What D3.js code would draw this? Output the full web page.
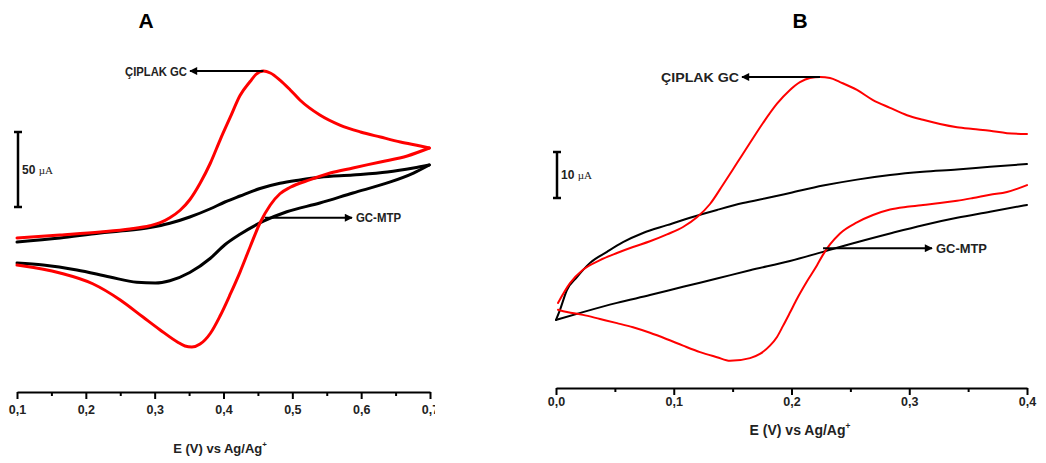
<!DOCTYPE html>
<html><head><meta charset="utf-8">
<script src="https://cdn.jsdelivr.net/npm/d3@7"></script>
<style>
html,body{margin:0;padding:0;background:#fff;}
svg{display:block;}
text{font-family:"Liberation Sans",Arial,sans-serif;}
</style></head>
<body><svg id="c" width="1046" height="463"></svg>
<script>
// ---------- Panel A data (E in V, I in µA) ----------
const redA_E_fwd = [0.100,0.1625,0.221,0.264,0.293,0.308,0.322,0.337,0.351,0.366,0.381,0.395,0.410,0.424,0.439,0.447,0.458,0.468,0.482,0.497,0.511,0.540,0.569,0.599,0.628,0.657,0.686,0.699];
const redA_I_fwd = [8,10,12,14,16.2,18.2,21.5,26.5,33.5,44.5,58,73.3,88.7,103,112.5,117,119.3,118,113.3,106.7,100,90,83.3,78.7,75.3,72,69.3,68];
const redA_E_rev = [0.699,0.667,0.628,0.588,0.555,0.526,0.497,0.482,0.468,0.453,0.439,0.424,0.410,0.395,0.381,0.366,0.354,0.344,0.333,0.308,0.283,0.250,0.210,0.1625,0.100];
const redA_I_rev = [68,62.7,58.7,54.7,51.3,46.9,41.8,37.5,30,18,2.5,-14.7,-29.3,-44,-55.5,-62.7,-64.7,-64,-61.3,-53.3,-44.7,-33.3,-22.5,-15.3,-10];
const blkA_E_fwd = [0.100,0.1625,0.221,0.250,0.293,0.322,0.351,0.381,0.402,0.424,0.453,0.482,0.511,0.540,0.588,0.638,0.676,0.699];
const blkA_I_fwd = [5.3,8,11.3,12.6,15,17.8,22,27.5,32,36,41,44.5,46.7,48.5,50,52,54.7,56.7];
const blkA_E_rev = [0.699,0.676,0.638,0.588,0.540,0.492,0.458,0.424,0.402,0.381,0.351,0.322,0.301,0.274,0.235,0.187,0.138,0.100];
const blkA_I_rev = [56.7,51.3,44.7,38,31.3,25.5,19.2,10.5,3.5,-5.5,-15,-20.5,-22,-21.5,-18,-13.3,-10,-8.7];
const ticksA = [0.1,0.2,0.3,0.4,0.5,0.6,0.7];
const tickLabelsA = ["0,1","0,2","0,3","0,4","0,5","0,6","0,7"];
const minorTicksA = [0.15,0.25,0.35,0.45,0.55,0.65];

// ---------- Panel B data ----------
const redB_E_fwd = [0.0017,0.0119,0.0229,0.0374,0.0518,0.0654,0.0798,0.0943,0.1079,0.1197,0.1308,0.1418,0.1537,0.1648,0.1758,0.1877,0.1987,0.2072,0.2157,0.2242,0.2327,0.2412,0.2556,0.2692,0.2837,0.2981,0.3117,0.3261,0.3406,0.3541,0.3686,0.3830,0.4];
const redB_I_fwd = [-11.5,-7.2,-4.3,-2.2,-0.65,0.65,1.9,3.4,5.0,7.1,10.0,14.2,18.9,23.3,27.6,31.8,34.8,36.5,37.4,37.6,37.4,36.5,34.8,32.6,30.9,29.3,28.3,27.4,26.7,26.3,25.9,25.4,25.2];
const redB_E_rev = [0.4,0.383,0.3686,0.3541,0.3406,0.3261,0.3117,0.2981,0.2837,0.2692,0.2556,0.2412,0.2327,0.2268,0.2217,0.2132,0.2047,0.1987,0.1928,0.1877,0.1817,0.1732,0.1648,0.1478,0.1367,0.1223,0.1079,0.0943,0.0798,0.0654,0.0518,0.0374,0.0229,0.0093,0.0017];
const redB_I_rev = [14.1,12.6,12.0,11.3,10.7,10.2,9.8,9.4,8.8,7.6,6.0,3.6,1.2,-1.0,-3.3,-6.8,-10.6,-13.6,-16.5,-18.9,-20.8,-22.6,-23.5,-24.1,-23.3,-22.2,-20.8,-19.4,-18.0,-16.8,-15.9,-15.0,-14.1,-13.5,-13.0];
const blkB_E_fwd = [0.0,0.0034,0.0093,0.0178,0.0289,0.0433,0.0569,0.0739,0.0943,0.1138,0.1367,0.1588,0.1792,0.1987,0.2268,0.2556,0.2837,0.3117,0.3406,0.3686,0.4];
const blkB_I_fwd = [-15.2,-13.0,-8.7,-5.9,-2.8,-0.4,1.7,3.7,5.4,7.0,8.7,10.2,11.3,12.4,14.0,15.3,16.3,17.0,17.5,18.1,18.7];
const blkB_E_rev = [0.0,0.0229,0.0518,0.0798,0.1079,0.1367,0.1648,0.1987,0.2268,0.2556,0.2837,0.3117,0.3406,0.3686,0.4];
const blkB_I_rev = [-15.2,-13.5,-11.5,-9.8,-8.0,-6.2,-4.4,-2.4,-0.4,1.7,3.6,5.4,7.0,8.3,9.8];
const ticksB = [0.0,0.1,0.2,0.3,0.4];
const tickLabelsB = ["0,0","0,1","0,2","0,3","0,4"];
const minorTicksB = [0.05,0.15,0.25,0.35];

const panelLetters = ["A","B"];
const annotTop = "ÇIPLAK GC";
const annotBottom = "GC-MTP";
const scaleA = 50, scaleB = 10;

// ---------- drawing ----------
const svg = d3.select("#c");
const defs = svg.append("defs");
defs.append("marker").attr("id","arr").attr("viewBox","0 0 10 10").attr("refX",9).attr("refY",5)
  .attr("markerWidth",10).attr("markerHeight",8).attr("markerUnits","userSpaceOnUse").attr("orient","auto")
  .append("path").attr("d","M0,0 L10,5 L0,10 Z").attr("fill","#000");
defs.append("clipPath").attr("id","clipA").append("rect").attr("x",0).attr("y",0).attr("width",435).attr("height",463);

const zip = (E,I)=>E.map((e,i)=>[e,I[i]]).sort((a,b)=>a[0]-b[0]);

function panel(o){
  const g = svg.append("g").attr("clip-path", o.clip || null);
  const x = d3.scaleLinear().domain(o.xDom).range(o.xRange);
  const y = d3.scaleLinear().domain(o.yDom).range(o.yRange);
  const line = d3.line().x(d=>x(d[0])).y(d=>y(d[1])).curve(d3.curveMonotoneX);
  o.series.forEach(s=>{
    g.append("path").datum(zip(s.E,s.I)).attr("d",line).attr("fill","none")
     .attr("stroke",s.color).attr("stroke-width",o.lw).attr("stroke-linejoin","round").attr("stroke-linecap","round");
  });
  // axis
  const ax = g.append("g").attr("transform",`translate(0,${o.axisY})`);
  ax.call(d3.axisBottom(x).tickValues(o.ticks).tickSize(7).tickSizeOuter(0)
      .tickFormat((d,i)=>o.tickLabels[i]));
  ax.select(".domain").attr("stroke","#000").attr("stroke-width",2);
  ax.selectAll(".tick line").attr("stroke","#000").attr("stroke-width",2);
  ax.selectAll(".tick text").attr("font-family","Liberation Sans, Arial, sans-serif")
     .attr("font-weight","bold").attr("font-size",o.tickFs).attr("fill","#222").attr("dy",o.tickDy);
  const mx = g.append("g").attr("transform",`translate(0,${o.axisY})`);
  mx.call(d3.axisBottom(x).tickValues(o.minor).tickSize(4).tickSizeOuter(0).tickFormat(""));
  mx.select(".domain").remove();
  mx.selectAll(".tick line").attr("stroke","#000").attr("stroke-width",2);
  // axis title
  const t = g.append("text").attr("x",o.titleX).attr("y",o.titleY).attr("text-anchor","middle")
    .attr("font-weight","bold").attr("font-size",o.titleFs).attr("fill","#222");
  t.append("tspan").text("E (V) vs Ag/Ag");
  t.append("tspan").text("+").attr("font-size",o.titleFs*0.6).attr("dy",-o.titleFs*0.45);
  // panel letter
  svg.append("text").attr("x",o.letterX).attr("y",28).attr("text-anchor","middle")
    .attr("font-weight","bold").attr("font-size",21).attr("fill","#000").text(o.letter);
  // scale bar
  const y0 = y(0), y1 = y(o.scaleVal);
  const sb = svg.append("g");
  sb.append("line").attr("x1",o.sbX).attr("x2",o.sbX).attr("y1",o.sbTop).attr("y2",o.sbTop+(y0-y1)).attr("stroke","#000").attr("stroke-width",2.5);
  [o.sbTop,o.sbTop+(y0-y1)].forEach(yy=>sb.append("line").attr("x1",o.sbX-4).attr("x2",o.sbX+4).attr("y1",yy).attr("y2",yy).attr("stroke","#000").attr("stroke-width",2.5));
  const st = sb.append("text").attr("x",o.sbX+4).attr("y",o.sbTop+(y0-y1)/2+4).attr("font-size",o.sbFs).attr("fill","#222");
  st.append("tspan").text(o.scaleVal+" ").attr("font-weight","bold").attr("font-family","Liberation Sans Narrow, Liberation Sans, sans-serif");
  st.append("tspan").text("µA").attr("font-family","Liberation Serif, serif").attr("font-size",o.sbFs-1);
  // annotations
  const pk = o.peak;
  svg.append("line").attr("x1",x(pk[0])).attr("y1",y(pk[1])).attr("x2",o.topArrowEnd).attr("y2",y(pk[1]))
    .attr("stroke","#000").attr("stroke-width",2).attr("marker-end","url(#arr)");
  svg.append("text").attr("x",o.topArrowEnd-3).attr("y",y(pk[1])+4.5).attr("text-anchor","end")
    .attr("font-weight","bold").attr("font-size",o.annFs).attr("fill","#222")
    .attr("font-family",o.annFont).attr("textLength",o.topTextW).attr("lengthAdjust","spacingAndGlyphs").text(annotTop);
  const cr = o.cross;
  svg.append("line").attr("x1",x(cr[0])).attr("y1",y(cr[1])).attr("x2",o.botArrowEnd).attr("y2",y(cr[1]))
    .attr("stroke","#000").attr("stroke-width",2).attr("marker-end","url(#arr)");
  svg.append("text").attr("x",o.botArrowEnd+4).attr("y",y(cr[1])+4.5)
    .attr("font-weight",o.botWeight).attr("font-size",o.annFs).attr("fill","#222")
    .attr("font-family",o.annFont).attr("textLength",o.botTextW).attr("lengthAdjust","spacingAndGlyphs").text(annotBottom);
}

panel({
  clip:"url(#clipA)", xDom:[0.1,0.7], xRange:[17,430], yDom:[-100,150], yRange:[400,25], lw:3,
  series:[
    {E:blkA_E_fwd,I:blkA_I_fwd,color:"#000"},{E:blkA_E_rev,I:blkA_I_rev,color:"#000"},
    {E:redA_E_fwd,I:redA_I_fwd,color:"#ff0000"},{E:redA_E_rev,I:redA_I_rev,color:"#ff0000"}],
  axisY:392, ticks:ticksA, tickLabels:tickLabelsA, minor:minorTicksA, tickFs:12.5, tickDy:"0.95em",
  titleX:220, titleY:453, titleFs:13, letter:panelLetters[0], letterX:146,
  scaleVal:scaleA, sbX:18, sbTop:132, sbFs:12,
  peak:[0.458,119.3], topArrowEnd:190, cross:[0.460,21.5], botArrowEnd:352,
  annFs:12, annFont:"Liberation Sans Narrow, Liberation Sans, sans-serif", topTextW:62, botTextW:45, botWeight:"bold"
});
panel({
  xDom:[0,0.4], xRange:[556,1027], yDom:[-30,45], yRange:[388,43], lw:2,
  series:[
    {E:blkB_E_fwd,I:blkB_I_fwd,color:"#000"},{E:blkB_E_rev,I:blkB_I_rev,color:"#000"},
    {E:redB_E_fwd,I:redB_I_fwd,color:"#ff0000"},{E:redB_E_rev,I:redB_I_rev,color:"#ff0000"}],
  axisY:388, ticks:ticksB, tickLabels:tickLabelsB, minor:minorTicksB, tickFs:12.5, tickDy:"0.65em",
  titleX:800, titleY:435, titleFs:14, letter:panelLetters[1], letterX:800,
  scaleVal:scaleB, sbX:557, sbTop:152, sbFs:12,
  peak:[0.2242,37.6], topArrowEnd:742, cross:[0.2268,0.4], botArrowEnd:932,
  annFs:12.5, annFont:"Open Sans, Liberation Sans, sans-serif", topTextW:78, botTextW:51, botWeight:"600"
});
</script></body></html>
